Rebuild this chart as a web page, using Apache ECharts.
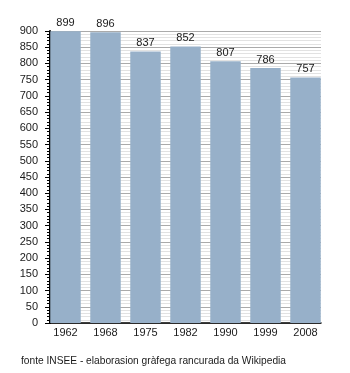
<!DOCTYPE html>
<html>
<head>
<meta charset="utf-8">
<script src="https://cdn.jsdelivr.net/npm/echarts@6/dist/echarts.min.js"></script>
<style>
  html, body { margin: 0; padding: 0; background: #fff; }
  #chart { width: 350px; height: 373px; }
</style>
</head>
<body>
<div id="chart"></div>
<script>
// Population by census year
const years = ['1962', '1968', '1975', '1982', '1990', '1999', '2008'];
const population = [899, 896, 837, 852, 807, 786, 757];
const yMin = 0;
const yMax = 900;
const yStep = 50;
const sourceNote = 'fonte INSEE - elaborasion gràfega rancurada da Wikipedia';

const font = 'Liberation Sans, Arial, Helvetica, sans-serif';
const chart = echarts.init(document.getElementById('chart'), null, { renderer: 'canvas' });

chart.setOption({
  animation: false,
  backgroundColor: '#ffffff',
  title: {
    text: sourceNote,
    left: 21,
    top: 356,
    padding: 0,
    textStyle: { fontFamily: font, fontSize: 10.2, fontWeight: 'normal', color: '#1a1a1a' }
  },
  grid: [
    // frame: axes and grid lines
    { left: 50, top: 31, width: 271, height: 292 },
    // bars, left-aligned inside each 40px slot
    { left: 45.5, top: 31, width: 280, height: 292 }
  ],
  xAxis: [
    {
      gridIndex: 0,
      type: 'category',
      data: years,
      axisLine: { show: true, lineStyle: { color: '#000', width: 1.5 } },
      axisTick: { show: false },
      axisLabel: { show: false },
      splitLine: { show: false }
    },
    {
      gridIndex: 1,
      type: 'category',
      data: years,
      axisLine: { show: false },
      axisTick: { show: false },
      axisLabel: { show: true, margin: 4, fontFamily: font, fontSize: 11, color: '#1a1a1a' },
      splitLine: { show: false }
    }
  ],
  yAxis: [
    {
      gridIndex: 0,
      type: 'value',
      min: yMin,
      max: yMax,
      interval: yStep,
      axisLine: { show: true, lineStyle: { color: '#000', width: 2 } },
      axisTick: { show: true, length: 5, lineStyle: { color: '#000', width: 1 } },
      minorTick: { show: true, splitNumber: 5, length: 3, lineStyle: { color: '#000', width: 1 } },
      axisLabel: { margin: 12, fontFamily: font, fontSize: 11, color: '#1a1a1a' },
      splitLine: { show: true, lineStyle: { color: '#aaaaaa', width: 1 } },
      minorSplitLine: { show: true, lineStyle: { color: '#e2e2e2', width: 1 } }
    },
    {
      gridIndex: 1,
      type: 'value',
      min: yMin,
      max: yMax,
      interval: yStep,
      show: false,
      splitLine: { show: false }
    }
  ],
  series: [
    {
      type: 'bar',
      xAxisIndex: 1,
      yAxisIndex: 1,
      data: population,
      barWidth: 30.5,
      itemStyle: { color: '#97b0c9' },
      label: {
        show: true,
        position: 'top',
        distance: 3,
        fontFamily: font,
        fontSize: 11,
        color: '#1a1a1a'
      }
    }
  ]
});
</script>
</body>
</html>
